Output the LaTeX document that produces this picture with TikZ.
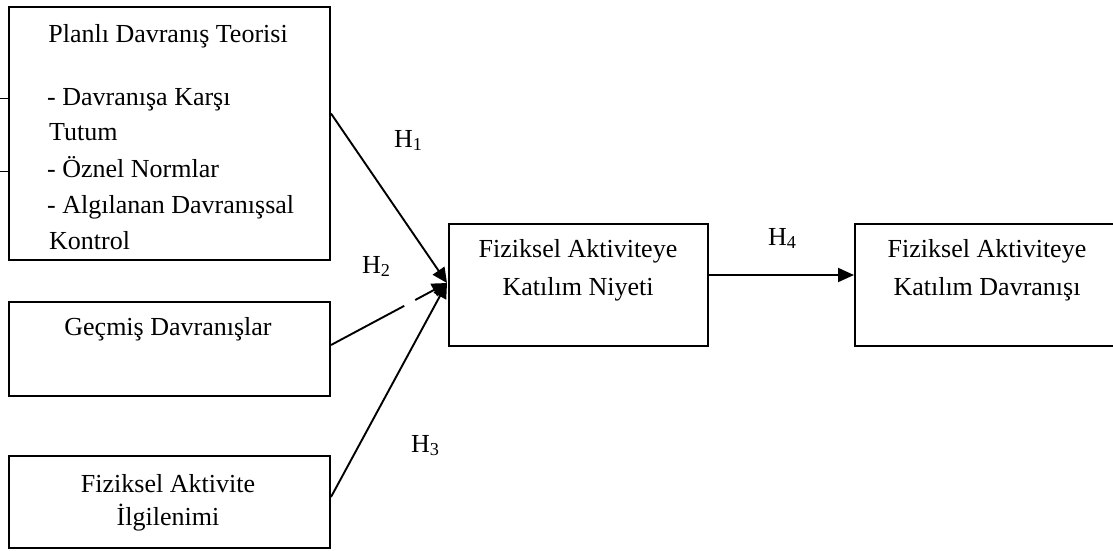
\documentclass[tikz,border=0pt]{standalone}
\usepackage{fontspec}
\setmainfont{Liberation Serif}
\usetikzlibrary{arrows.meta}
\begin{document}
\begin{tikzpicture}[x=1pt,y=-1pt,
  box/.style={draw,line width=2pt,inner sep=0pt},
  txt/.style={font=\fontsize{26}{36}\selectfont,inner sep=0pt,anchor=base},
  lft/.style={txt,anchor=base west},
  hl/.style={font=\fontsize{26}{30}\selectfont,inner sep=0pt,anchor=base west},
  conn/.style={line width=1.9pt,-{Triangle[length=15pt,width=14pt]}},
  tick/.style={line width=0.8pt}]
\useasboundingbox (0,0) rectangle (1113,550);
\clip (0,0) rectangle (1113,550);
% boxes
\node[box,minimum width=321pt,minimum height=253pt] (p) at (169.5,133.5) {};
\node[box,minimum width=321pt,minimum height=94pt] (g) at (169.5,349) {};
\node[box,minimum width=321pt,minimum height=92pt] (f) at (169.5,502) {};
\node[box,minimum width=259pt,minimum height=122pt] (n) at (578.5,285) {};
\node[box,minimum width=270pt,minimum height=122pt] (d) at (990,285) {};
% texts
\node[txt] (pt) at (168,42) {Planlı Davranış Teorisi};
\node[lft] (p1) at (47,105) {- Davranışa Karşı};
\node[lft] (p2) at (49,140) {Tutum};
\node[lft] (p3) at (47,177) {- Öznel Normlar};
\node[lft] (p4) at (47,213) {- Algılanan Davranışsal};
\node[lft] (p5) at (49,249) {Kontrol};
\node[txt] (gt) at (168,335) {Geçmiş Davranışlar};
\node[txt] (f1) at (168,492) {Fiziksel Aktivite};
\node[txt] (f2) at (168,525) {İlgilenimi};
\node[txt] (n1) at (578,257) {Fiziksel Aktiviteye};
\node[txt] (n2) at (578,295) {Katılım Niyeti};
\node[txt] (d1) at (987,257) {Fiziksel Aktiviteye};
\node[txt] (d2) at (987,295) {Katılım Davranışı};
% hypothesis labels
\node[hl] (h1) at (394,147) {H\textsubscript{1}};
\node[hl] (h2) at (362,273) {H\textsubscript{2}};
\node[hl] (h3) at (411,452) {H\textsubscript{3}};
\node[hl] (h4) at (768,245) {H\textsubscript{4}};
% ticks on the left edge
\coordinate (t1) at (0,98);
\coordinate (t2) at (0,171);
\draw[tick] (t1) -- (p.west |- t1);
\draw[tick] (t2) -- (p.west |- t2);
% connectors
\coordinate (tip) at ([shift={(-1,-2)}]n.west);
\draw[conn] ([yshift=20pt]p.east) -- (tip);
\draw[conn,dash pattern=on 83pt off 12.5pt on 200pt] ([yshift=4pt]g.east) -- (tip);
\draw[conn] ([yshift=5pt]f.east) -- (tip);
\draw[conn,-{Triangle[length=16pt,width=14pt]}] ([yshift=10pt]n.east) -- ([yshift=10pt]d.west);
\end{tikzpicture}
\end{document}
